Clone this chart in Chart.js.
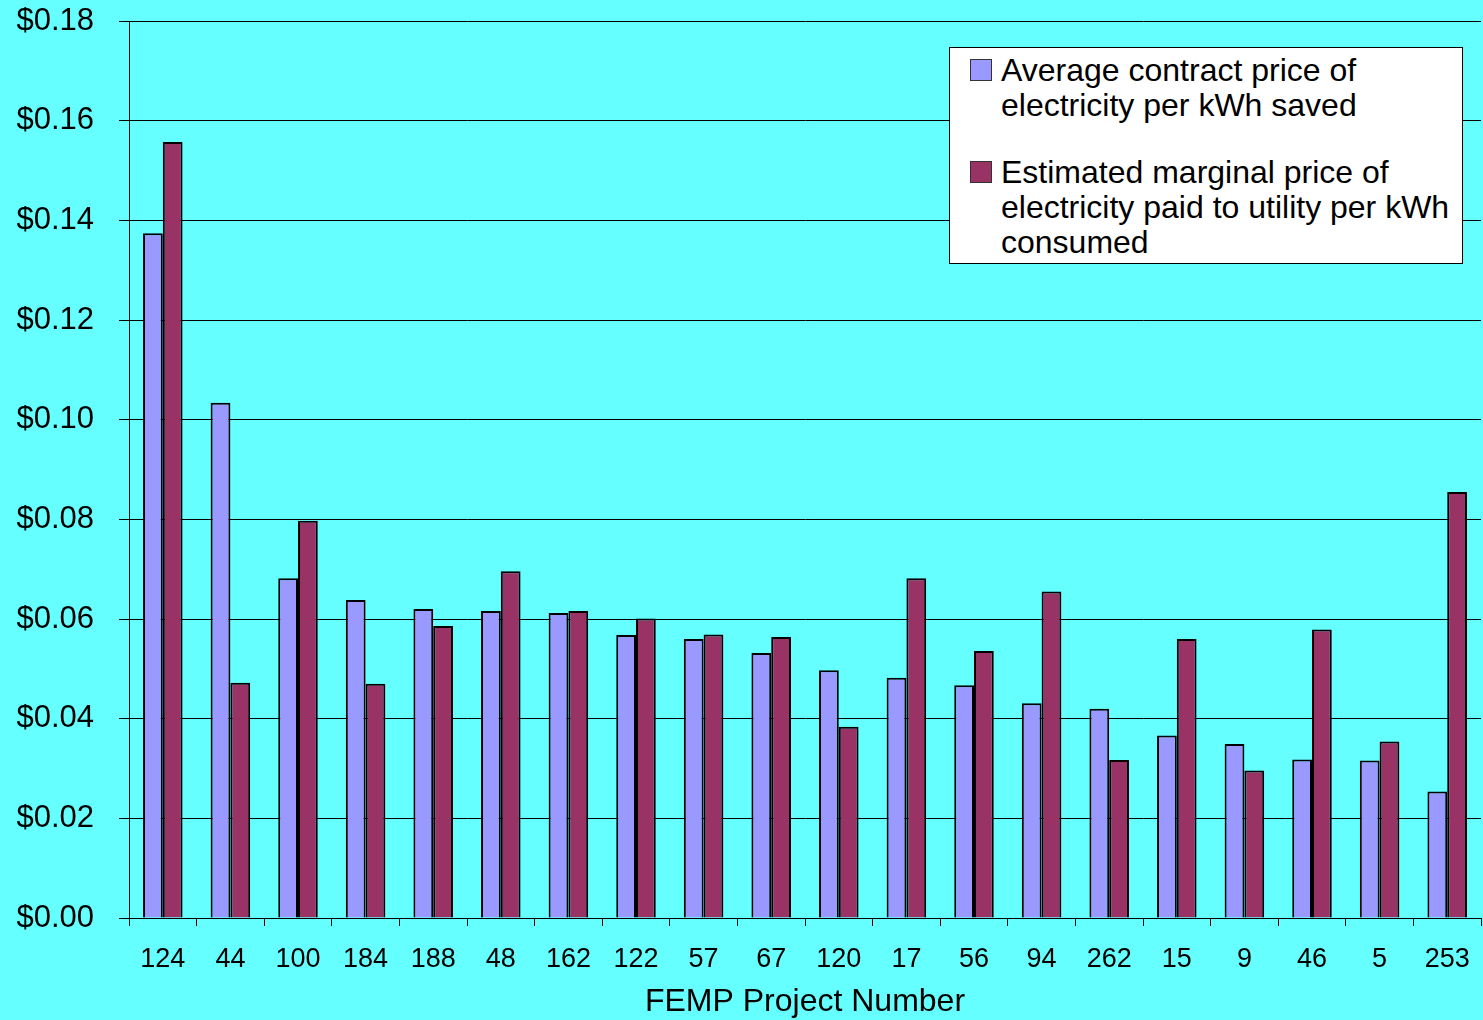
<!DOCTYPE html>
<html>
<head>
<meta charset="utf-8">
<script src="https://cdn.jsdelivr.net/npm/chart.js@4/dist/chart.umd.min.js"></script>
<style>
  html, body { margin: 0; padding: 0; background: #66FFFF; }
  #wrap { position: relative; width: 1483px; height: 1020px; }
  canvas { display: block; }
  #legend {
    position: absolute; left: 949px; top: 47px; width: 514px; height: 217px;
    box-sizing: border-box; background: #fff; border: 1px solid #000;
    font-family: "Liberation Sans", Arial, sans-serif; font-size: 32px; line-height: 35px; color: #000;
    white-space: nowrap;
  }
  .item { position: absolute; left: 51px; }
  .sw { position: absolute; left: -31px; top: 6px; width: 20px; height: 20px; border: 1px solid #333; }
</style>
</head>
<body>
<div id="wrap">
  <canvas id="c" width="1483" height="1020"></canvas>
  <div id="legend"></div>
</div>
<script>
// FEMP project numbers along the x axis
const projects = ['124', '44', '100', '184', '188', '48', '162', '122', '57', '67', '120', '17', '56', '94', '262', '15', '9', '46', '5', '253'];

// $/kWh
const contractPrice = [0.1374, 0.1034, 0.0682, 0.0638, 0.0620, 0.0616, 0.0612, 0.0568, 0.0560, 0.0532, 0.0497, 0.0482, 0.0467, 0.0431, 0.0420, 0.0366, 0.0349, 0.0318, 0.0316, 0.0254];
const utilityPrice  = [0.1557, 0.0472, 0.0797, 0.0470, 0.0586, 0.0696, 0.0616, 0.0601, 0.0569, 0.0564, 0.0384, 0.0682, 0.0536, 0.0655, 0.0317, 0.0560, 0.0296, 0.0579, 0.0354, 0.0855];

const seriesNames = [
  ['Average contract price of', 'electricity per kWh saved'],
  ['Estimated marginal price of', 'electricity paid to utility per kWh', 'consumed']
];
const colors = ['#9999FF', '#993366'];

const font = 'Liberation Sans, Arial, sans-serif';

const chart = new Chart(document.getElementById('c'), {
  type: 'bar',
  data: {
    labels: projects,
    datasets: [
      { label: seriesNames[0].join(' '), data: contractPrice, backgroundColor: colors[0] },
      { label: seriesNames[1].join(' '), data: utilityPrice, backgroundColor: colors[1] }
    ]
  },
  options: {
    responsive: false,
    animation: false,
    events: [],
    layout: { padding: { top: 21, right: 2, left: 0, bottom: 0 } },
    datasets: {
      bar: {
        borderColor: '#000',
        borderWidth: 2,
        categoryPercentage: 0.585,
        barPercentage: 1.0
      }
    },
    plugins: { legend: { display: false }, tooltip: { enabled: false } },
    scales: {
      x: {
        grid: { display: true, drawOnChartArea: false, drawTicks: true, tickLength: 8, color: '#000', lineWidth: 1, offset: true },
        border: { display: true, color: '#000', width: 1 },
        ticks: { color: '#000', font: { family: font, size: 27 }, padding: 17, maxRotation: 0, autoSkip: false },
        title: { display: true, text: 'FEMP Project Number', color: '#000', font: { family: font, size: 32, lineHeight: 1.1 }, padding: { top: 0, bottom: 0 } },
        afterFit: s => { s.height = 102; s.paddingLeft = 0; s.paddingRight = 0; }
      },
      y: {
        min: 0, max: 0.18,
        ticks: {
          stepSize: 0.02, color: '#000', padding: 25,
          font: { family: font, size: 31 },
          callback: v => '$' + Number(v).toFixed(2)
        },
        grid: { color: '#000', lineWidth: 1, drawTicks: true, tickLength: 10 },
        border: { display: true, color: '#000', width: 1 },
        afterFit: s => { s.width = 129; s.paddingTop = 0; s.paddingBottom = 0; }
      }
    }
  }
});

// Legend box with wrapped series names
const legend = document.getElementById('legend');
const tops = [5, 107];
seriesNames.forEach((lines, i) => {
  const item = document.createElement('div');
  item.className = 'item';
  item.style.top = tops[i] + 'px';
  const sw = document.createElement('span');
  sw.className = 'sw';
  sw.style.background = colors[i];
  item.appendChild(sw);
  lines.forEach(t => {
    const d = document.createElement('div');
    d.textContent = t;
    item.appendChild(d);
  });
  legend.appendChild(item);
});
</script>
</body>
</html>
